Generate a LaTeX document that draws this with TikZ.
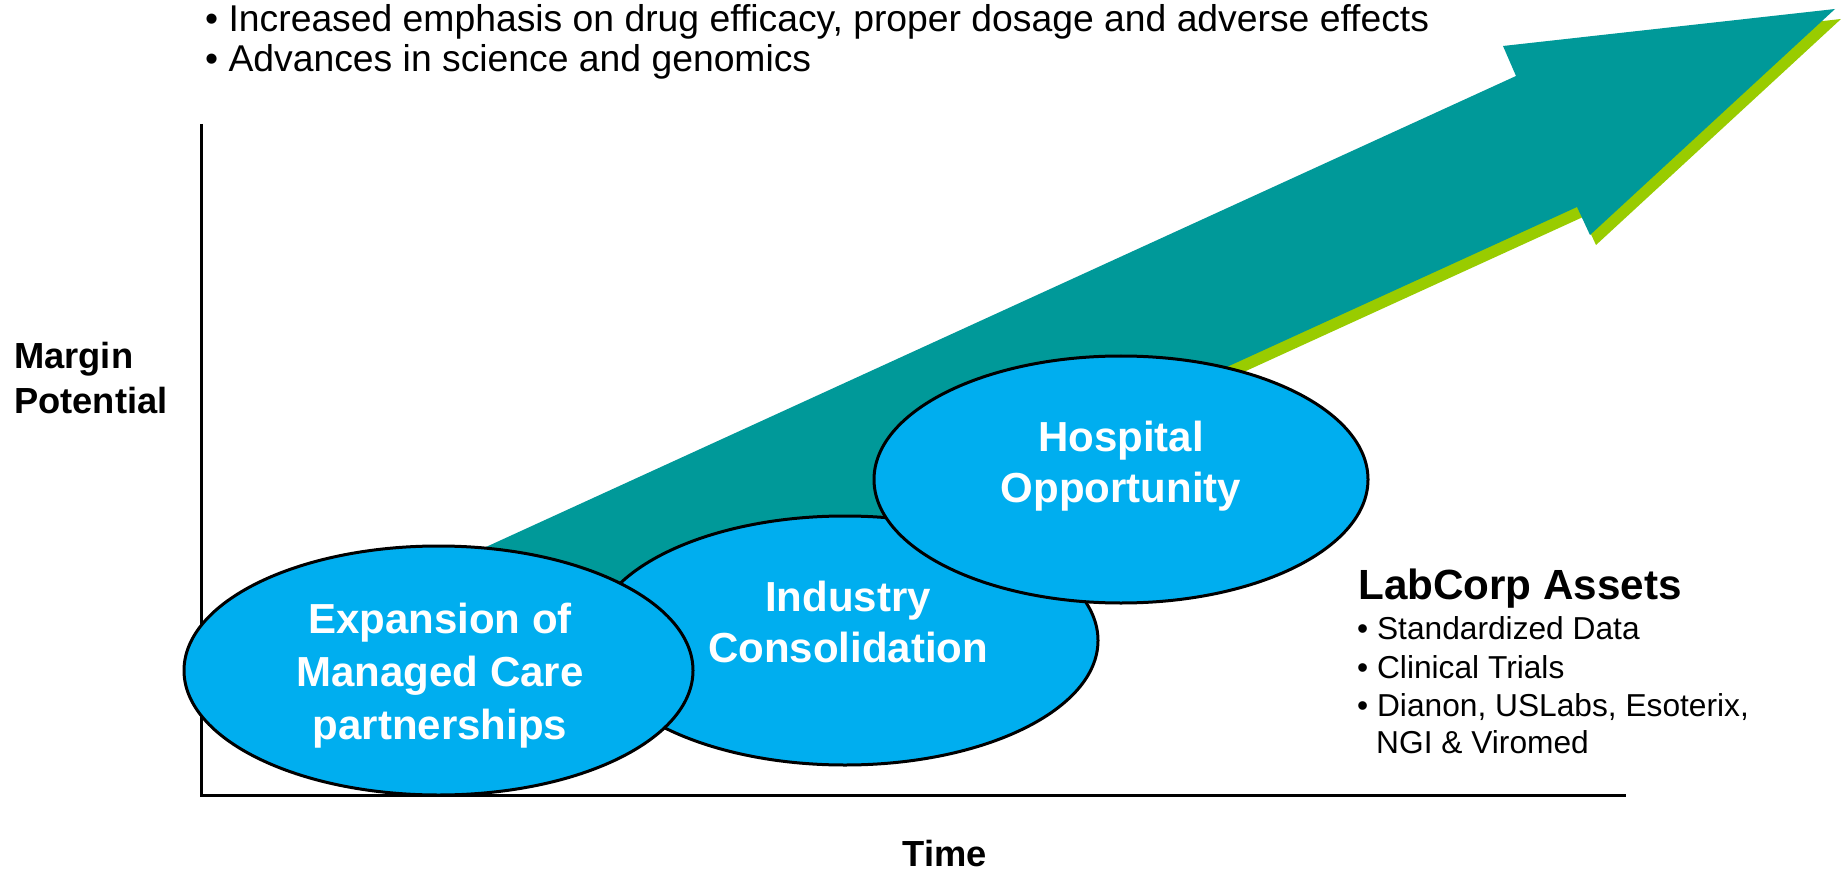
\documentclass[tikz,border=0pt]{standalone}
\usepackage{fontspec}
\setmainfont{Liberation Sans}
\usetikzlibrary{shapes.geometric}
\definecolor{arrowteal}{HTML}{009999}
\definecolor{arrowgreen}{HTML}{99CC00}
\definecolor{ellblue}{HTML}{00AEEF}
\newcommand\bigarrowpath{(440,568) -- (1516,76) -- (1503,46) -- (1835,9) -- (1590,235) -- (1577,207) -- (500,699) -- cycle}
\begin{document}
\begin{tikzpicture}[x=1pt,y=-1pt,
  bubble/.style={ellipse, draw=black, line width=3pt, fill=ellblue, inner sep=0pt},
  bubtext/.style={text=white, font=\bfseries\fontsize{42}{51}\selectfont, align=center, inner sep=0pt},
  axisline/.style={line width=3pt, line join=miter},
  toptext/.style={anchor=base west, inner sep=0pt, font=\fontsize{37.3}{40}\selectfont},
  boldlabel/.style={inner sep=0pt, font=\bfseries\fontsize{36.3}{45}\selectfont},
  assettitle/.style={anchor=base west, inner sep=0pt, font=\bfseries\fontsize{42.2}{48}\selectfont},
  assetitem/.style={anchor=base west, inner sep=0pt, font=\fontsize{31.7}{38}\selectfont}]
\useasboundingbox (0,0) rectangle (1841,874);
\fill[white] (0,0) rectangle (1841,874);

% arrow with green shadow
\begin{scope}[shift={(6,10)}]
  \fill[arrowgreen] \bigarrowpath;
\end{scope}
\fill[arrowteal] \bigarrowpath;

% axes
\coordinate (ytop) at (201,124);
\coordinate (origin) at (201,795);
\coordinate (xend) at (1626,795);
\draw[axisline] (ytop) -- (origin) -- (xend);

% bubbles
\node[bubble, minimum width=506pt, minimum height=249pt] (ind) at (845,640.5) {};
\node[bubble, minimum width=494pt, minimum height=247pt] (hosp) at (1121,479.5) {};
\node[bubble, minimum width=509pt, minimum height=249pt] (exp) at (438.5,670.5) {};

\node[bubtext] (indtext) at (848,622) {Industry\\Consolidation};
\node[bubtext] (hosptext) at (1121,466) {Hospital\\Opportunity};
\node[bubtext, font=\bfseries\fontsize{42}{53}\selectfont] (exptext) at (440,676) {Expansion of\\Managed Care\\partnerships};

% top bullets
\node[toptext] (b1) at (205,32) {• Increased emphasis on drug efficacy, proper dosage and adverse effects};
\node[toptext] (b2) at (205,72) {• Advances in science and genomics};

% axis labels
\node[boldlabel, anchor=base west] (m1) at (14,368) {Margin};
\node[boldlabel, anchor=base west] (m2) at (14,413) {Potential};
\node[boldlabel, anchor=base] (time) at (945,866) {Time};

% assets
\node[assettitle] (lc) at (1358,599) {LabCorp Assets};
\node[assetitem] (a1) at (1357,639) {• Standardized Data};
\node[assetitem] (a2) at (1357,678) {• Clinical Trials};
\node[assetitem] (a3) at (1357,716) {• Dianon, USLabs, Esoterix,};
\node[assetitem] (a4) at (1376,753) {NGI \& Viromed};
\end{tikzpicture}
\end{document}
